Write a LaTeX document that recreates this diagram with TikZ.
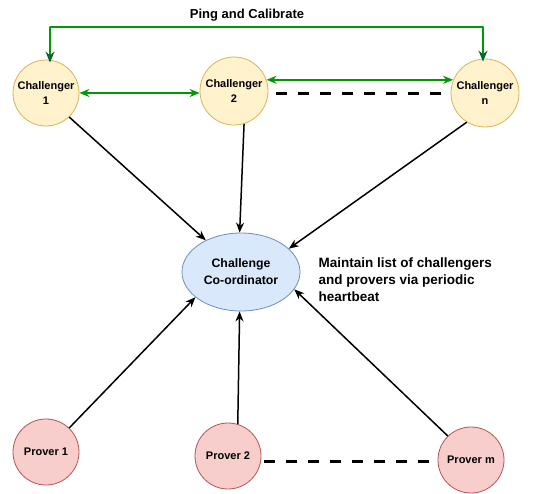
\documentclass[tikz,border=0pt]{standalone}
\usepackage{fontspec}
\setmainfont{Liberation Sans}
\usetikzlibrary{arrows.meta,shapes.geometric}
\definecolor{chfill}{HTML}{FFF2CC}
\definecolor{chdraw}{HTML}{D6B656}
\definecolor{prfill}{HTML}{F8CECC}
\definecolor{prdraw}{HTML}{B85450}
\definecolor{cofill}{HTML}{DAE8FC}
\definecolor{codraw}{HTML}{6C8EBF}
\definecolor{lgreen}{RGB}{0,153,0}
\definecolor{dgreen}{RGB}{0,102,51}
\tikzset{
  chal/.style={circle,fill=chfill,draw=chdraw,line width=0.8pt,inner sep=0pt,align=center,
    font=\bfseries\fontsize{11}{15}\selectfont},
  prov/.style={circle,fill=prfill,draw=prdraw,line width=0.8pt,inner sep=0pt,minimum size=66pt,align=center,
    font=\bfseries\fontsize{11}{13}\selectfont},
  coord/.style={ellipse,fill=cofill,draw=codraw,line width=0.8pt,minimum width=118pt,minimum height=78pt,inner sep=0pt,align=center,
    font=\bfseries\fontsize{12.3}{17}\selectfont},
  blk/.style={line width=1.5pt,-{Stealth[length=10pt,width=8pt]}},
  grn/.style={draw=lgreen,line width=1.6pt,{Stealth[length=10pt,width=8pt]}-{Stealth[length=10pt,width=8pt]}},
  ping/.style={draw=lgreen,line width=1.6pt,-{Stealth[length=11pt,width=9pt,color=dgreen]}},
  dsh/.style={line width=3pt,dash pattern=on 11pt off 11pt},
}
\begin{document}
\begin{tikzpicture}[x=1pt,y=-1pt]
\useasboundingbox[fill=white] (0,0) rectangle (551,493);
\node[chal,minimum size=66pt] (c1) at (46,93) {Challenger\\1};
\node[chal,minimum size=68pt] (c2) at (234,91) {Challenger\\2};
\node[chal,minimum size=68pt] (cn) at (485,93) {Challenger\\n};
\node[coord] (co) at (241,272) {Challenge\\Co-ordinator};
\node[prov] (p1) at (46,452) {Prover 1};
\node[prov] (p2) at (228,456) {Prover 2};
\node[prov] (pm) at (471,460) {Prover m};
\node[anchor=west,align=left,font=\bfseries\fontsize{13.5}{17}\selectfont] (txt) at (315,280)
  {Maintain list of challengers\\and provers via periodic\\heartbeat};
\coordinate (tl) at (50,27);
\coordinate (tr) at (483,27);
\node[font=\bfseries\fontsize{13}{15}\selectfont] (pl) at (247,15) {Ping and Calibrate};
% ping
\draw[draw=lgreen,line width=1.6pt,line cap=round] (tl) -- (tr);
\draw[ping] (tl) -- ([yshift=-3pt]c1.north -| tl);
\draw[ping] (tr) -- ([yshift=-3pt]cn.north -| tr);
% green double arrows
\draw[grn] (c1.east) -- (c1.east -| c2.west);
\draw[grn] (c2.19) -- (c2.19 -| cn.158);
% dashed
\draw[dsh] ([xshift=8pt]c2.east |- 0,93) -- (447,93);
\draw[dsh] ([xshift=3pt]p2.east |- 0,461) -- (435,461);
% black arrows
\draw[blk] (c1.-46) -- (co.138);
\draw[blk] (c2.-73) -- (co.92);
\draw[blk] (cn.-122) -- (co.26);
\draw[blk] (p1.46) -- (co.-151);
\draw[blk] (p2.73) -- (co.-92);
\draw[blk] (pm.134) -- (co.-18);
\end{tikzpicture}
\end{document}
